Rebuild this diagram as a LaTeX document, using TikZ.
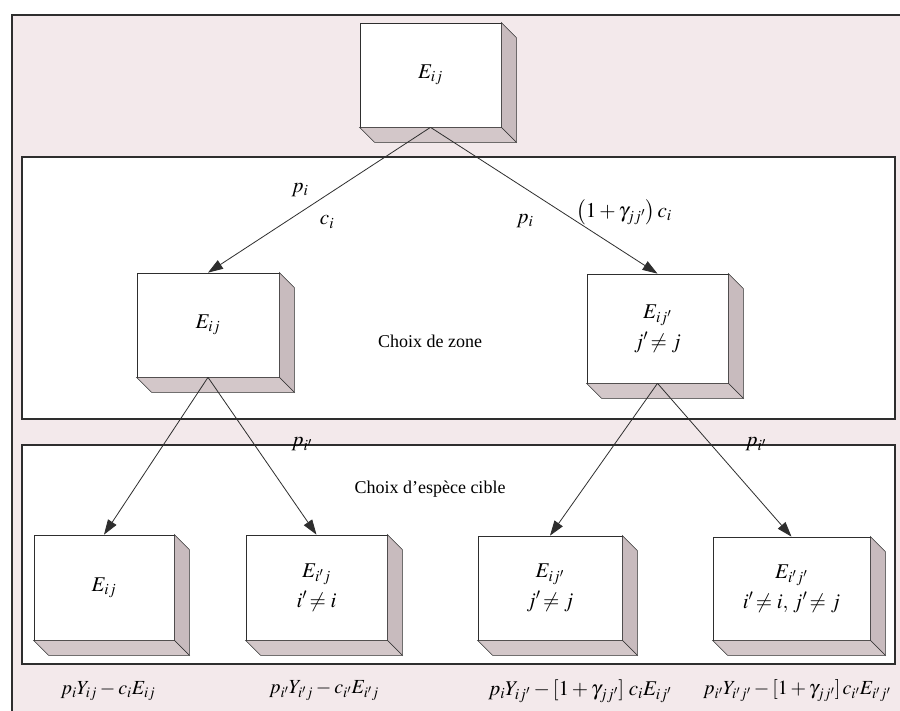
\documentclass[tikz,border=0pt]{standalone}
\usepackage{mathptmx}
\usepackage{fontspec}
\setmainfont{Liberation Serif}
\usetikzlibrary{arrows.meta,calc}
\definecolor{bgpink}{HTML}{F3E9EB}
\definecolor{sidecol}{HTML}{C8BBBE}
\definecolor{botcol}{HTML}{D3C7C9}
\definecolor{linecol}{HTML}{2E2E2E}
\tikzset{
  txt/.style={font=\fontsize{18}{22}\selectfont, inner sep=1pt},
  mtxt/.style={font=\fontsize{21}{25}\selectfont, inner sep=1pt},
  frontbox/.style={draw=linecol, line width=0.7pt, fill=white, inner sep=0pt, align=center, font=\fontsize{21}{25}\selectfont},
  sideface/.style={draw=linecol, line width=0.6pt, fill=sidecol},
  botface/.style={draw=linecol, line width=0.6pt, fill=botcol},
  panel/.style={draw=linecol, line width=1.3pt, fill=white},
  arr/.style={draw=linecol, line width=0.8pt, -{Triangle[length=15pt,width=10pt]}},
}
\newcommand\threed[1]{%
  \filldraw[sideface] (#1.north east) -- ++(15,15) -- ($(#1.south east)+(15,15)$) -- (#1.south east) -- cycle;
  \filldraw[botface] (#1.south west) -- ($(#1.south west)+(15,15)$) -- ($(#1.south east)+(15,15)$) -- (#1.south east) -- cycle;}
\begin{document}
\begin{tikzpicture}[x=1pt,y=-1pt]
\useasboundingbox (0,0) rectangle (900,711);
\fill[white] (0,0) rectangle (900,711);
\fill[bgpink] (12,15) rectangle (905,716);
\draw[linecol, line width=1.2pt] (12,716) -- (12,15) -- (905,15);
% panels
\draw[panel] (22,157) rectangle (895,419);
\draw[panel] (22,445) rectangle (895,664);
% boxes
\node[frontbox, minimum width=141pt, minimum height=104pt] (top) at (430.5,75) {$E_{ij}$};
\threed{top}
\node[frontbox, minimum width=142pt, minimum height=104pt] (ml) at (208,325) {$E_{ij}$};
\threed{ml}
\node[frontbox, minimum width=141pt, minimum height=109pt] (mr) at (657.5,328.5) {$E_{ij'}$\\[5pt]$j'\!\neq j$};
\threed{mr}
\node[frontbox, minimum width=140pt, minimum height=105pt] (b1) at (104,587.5) {$E_{ij}$};
\threed{b1}
\node[frontbox, minimum width=141pt, minimum height=105pt] (b2) at (316.5,587.5) {$E_{i'j}$\\[5pt]$i'\!\neq i$};
\threed{b2}
\node[frontbox, minimum width=144pt, minimum height=104pt] (b3) at (550,588) {$E_{ij'}$\\[5pt]$j'\!\neq j$};
\threed{b3}
\node[frontbox, minimum width=157pt, minimum height=103pt] (b4) at (791.5,588.5) {$E_{i'j'}$\\[5pt]$i'\!\neq i,\, j'\!\neq j$};
\threed{b4}
% arrows
\draw[arr] (top.south) -- (ml.north);
\draw[arr] (top.south) -- (mr.north);
\draw[arr] (ml.south) -- (b1.north);
\draw[arr] (ml.south) -- (b2.north);
\draw[arr] (mr.south) -- (b3.north);
\draw[arr] (mr.south) -- (b4.north);
% labels
\node[mtxt] (lpi1) at (300,190) {$p_i$};
\node[mtxt] (lci1) at (327,222) {$c_i$};
\node[mtxt] (lpi2) at (525,221) {$p_i$};
\node[mtxt] (lgam) at (624,212) {$\bigl(1+\gamma_{jj'}\bigr)\,c_i$};
\node[txt] (zone) at (430,341) {Choix de zone};
\node[txt] (cible) at (430,489) {Choix d'espèce cible};
\node[mtxt] (lpi3) at (302,444) {$p_{i'}$};
\node[mtxt] (lpi4) at (756,444) {$p_{i'}$};
\node[txt, font=\fontsize{20}{24}\selectfont] (r1) at (108,691) {$p_iY_{ij}-c_iE_{ij}$};
\node[txt, font=\fontsize{20}{24}\selectfont] (r2) at (324,691) {$p_{i'}Y_{i'j}-c_{i'}E_{i'j}$};
\node[mtxt] (r3) at (580,691) {$p_iY_{ij'}-[1+\gamma_{jj'}]\;c_iE_{ij'}$};
\node[txt, font=\fontsize{20}{24}\selectfont, anchor=west] (r4) at (702,691) {$p_{i'}Y_{i'j'}-[1+\gamma_{jj'}]\,c_{i'}E_{i'j'}$};
\end{tikzpicture}
\end{document}
